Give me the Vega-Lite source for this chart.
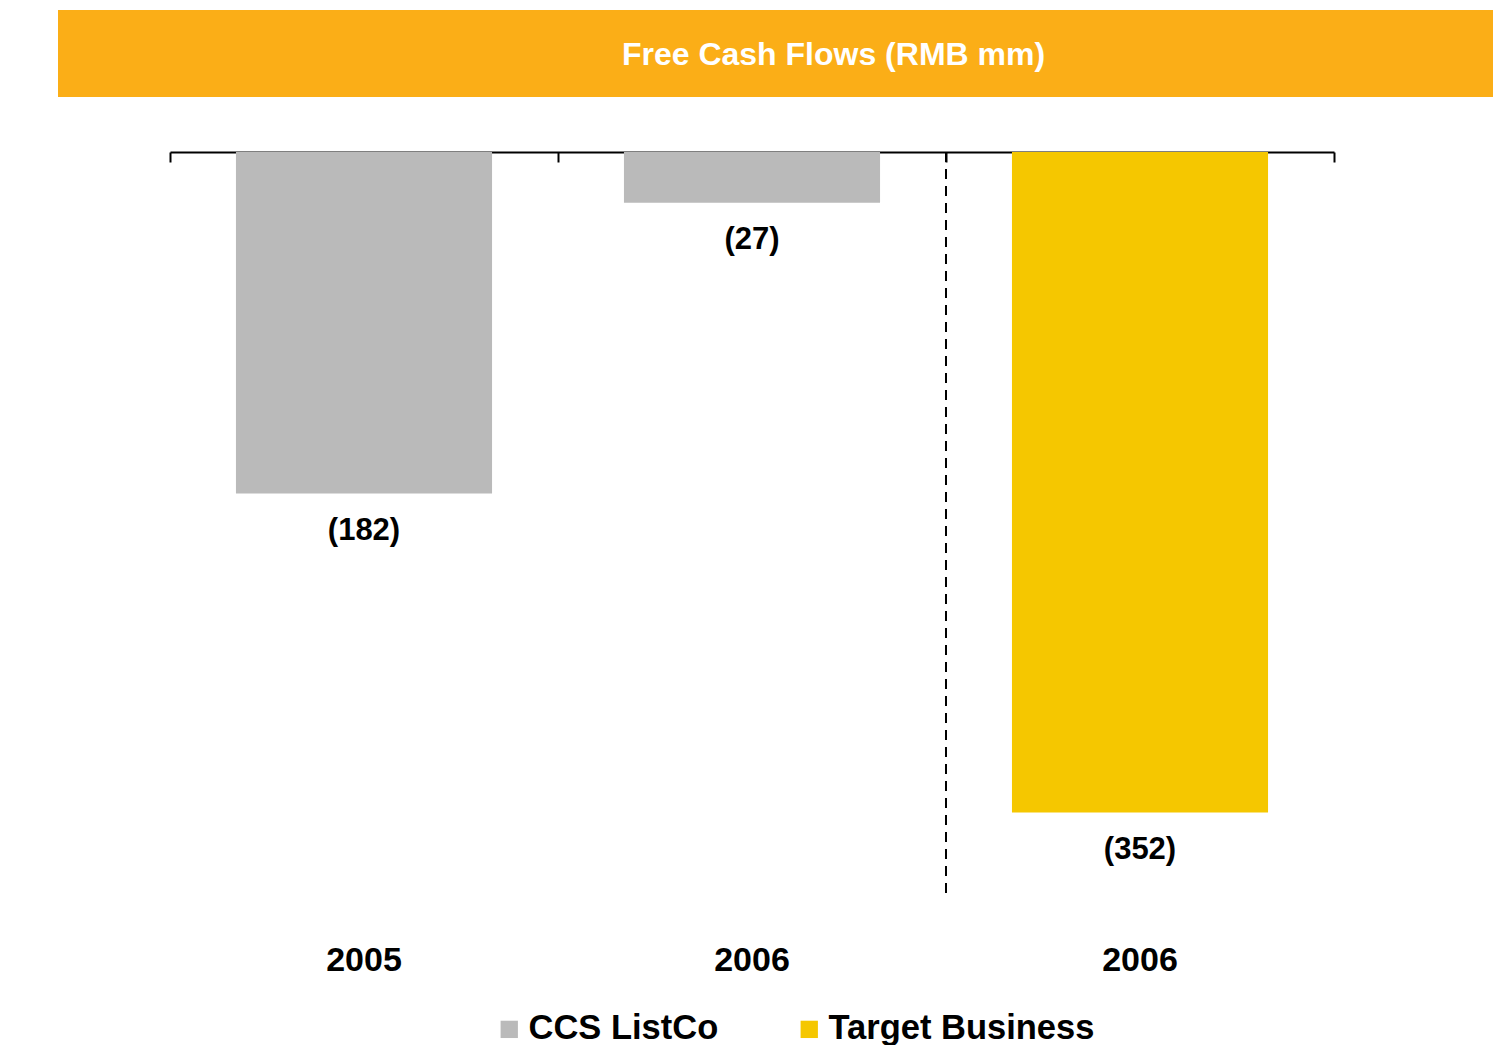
{
  "$schema": "https://vega.github.io/schema/vega-lite/v6.json",
  "padding": {"left": 58, "top": 10, "right": 0, "bottom": 0},
  "background": "white",
  "config": {"view": {"stroke": null}, "font": "Liberation Sans"},
  "spacing": 54,
  "resolve": {"scale": {"color": "independent"}},
  "vconcat": [
    {
      "width": 1435,
      "height": 87,
      "view": {"fill": "#FBAE17", "stroke": null},
      "data": {"values": [{"title": "Free Cash Flows (RMB mm)"}]},
      "mark": {"type": "text", "font": "Liberation Sans", "fontWeight": "bold", "fontSize": 32, "color": "white", "baseline": "middle", "align": "center", "dx": 58, "dy": 1},
      "encoding": {"text": {"field": "title"}}
    },
    {
      "width": 1276,
      "height": 745,
      "data": {"values": [
        {"key": "2005", "entity": "CCS ListCo", "value": -182, "label": "(182)"},
        {"key": "2006a", "entity": "CCS ListCo", "value": -27, "label": "(27)"},
        {"key": "2006b", "entity": "Target Business", "value": -352, "label": "(352)"}
      ]},
      "layer": [
        {
          "mark": {"type": "bar", "width": {"band": 0.66}},
          "encoding": {
            "x": {"field": "key", "type": "nominal", "scale": {"domain": ["2005", "2006a", "2006b"], "range": [112, 1276], "paddingInner": 0, "paddingOuter": 0},
              "axis": {"orient": "top", "labels": false, "title": null, "tickBand": "extent", "tickSize": -10, "tickWidth": 2, "tickColor": "black", "domainColor": "black", "domainWidth": 2, "grid": false}},
            "y": {"field": "value", "type": "quantitative", "scale": {"domain": [-397, 0], "nice": false}, "axis": null},
            "color": {"field": "entity", "type": "nominal", "scale": {"domain": ["CCS ListCo", "Target Business"], "range": ["#BABABA", "#F5C700"]},
              "legend": {"orient": "none", "legendX": 434, "legendY": 860, "direction": "horizontal", "title": null, "symbolType": "square", "symbolSize": 300, "symbolStrokeWidth": 0, "labelFontSize": 34.5, "labelFont": "Liberation Sans", "labelFontWeight": "bold", "labelColor": "black", "columnPadding": 73, "labelOffset": 2, "labelLimit": 400}}
          }
        },
        {
          "mark": {"type": "text", "baseline": "middle", "dy": 37, "fontSize": 31, "fontWeight": "bold", "font": "Liberation Sans", "color": "black"},
          "encoding": {
            "x": {"field": "key", "type": "nominal", "scale": {"domain": ["2005", "2006a", "2006b"], "range": [112, 1276], "paddingInner": 0, "paddingOuter": 0},
              "axis": {"orient": "bottom", "domain": false, "ticks": false, "grid": false, "title": null, "labelExpr": "slice(datum.label, 0, 4)", "labelFontSize": 34, "labelFont": "Liberation Sans", "labelFontWeight": "bold", "labelColor": "black", "labelPadding": 46, "labelAngle": 0}},
            "y": {"field": "value", "type": "quantitative", "axis": null},
            "text": {"field": "label"}
          }
        },
        {
          "data": {"values": [{"key": "2006b"}]},
          "mark": {"type": "rule", "strokeDash": [10, 7], "strokeWidth": 2, "color": "black"},
          "encoding": {
            "x": {"field": "key", "type": "nominal", "bandPosition": 0, "axis": null}
          }
        }
      ],
      "resolve": {"axis": {"x": "independent"}}
    }
  ]
}
